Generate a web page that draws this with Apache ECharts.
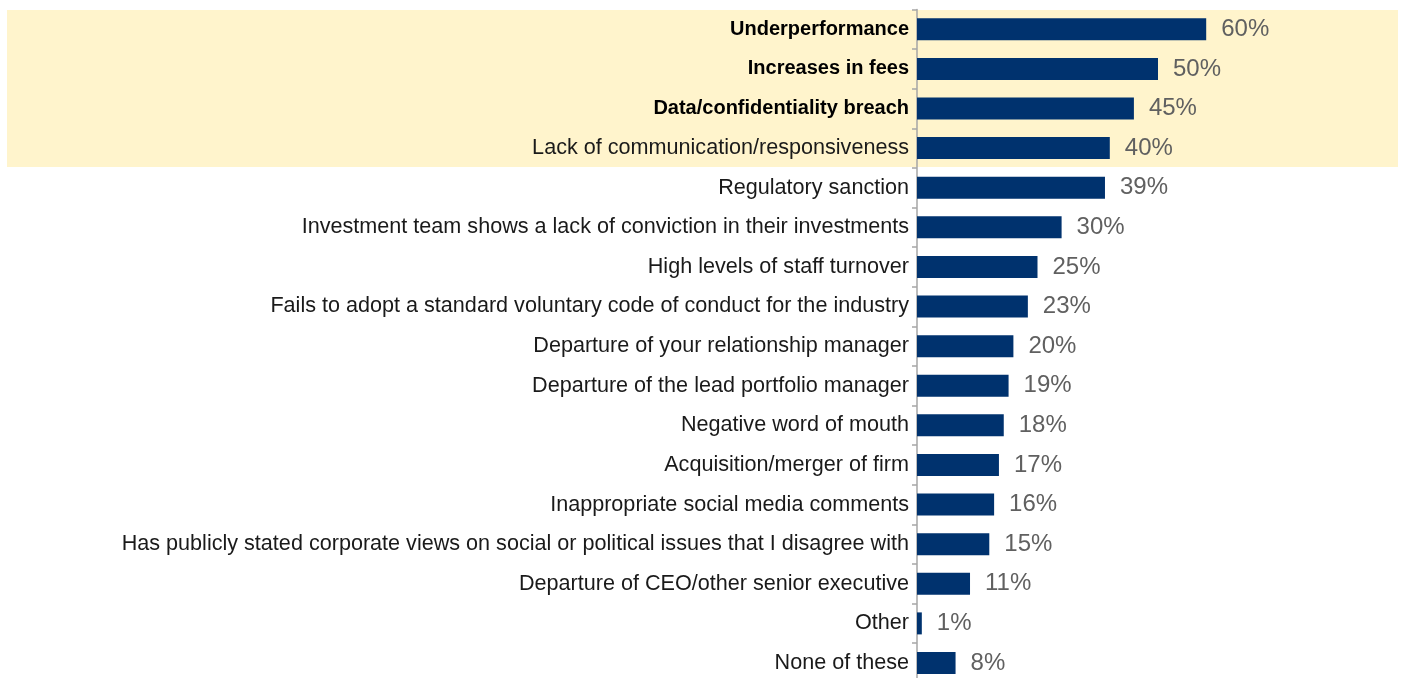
<!DOCTYPE html>
<html>
<head>
<meta charset="utf-8">
<script src="https://cdn.jsdelivr.net/npm/echarts@6/dist/echarts.min.js"></script>
<style>
html,body{margin:0;padding:0;background:#fff;overflow:hidden;width:1404px;height:678px;}
#chart{width:1404px;height:684px;}
</style>
</head>
<body>
<div id="chart"></div>
<script>
const categories = [
  "Underperformance",
  "Increases in fees",
  "Data/confidentiality breach",
  "Lack of communication/responsiveness",
  "Regulatory sanction",
  "Investment team shows a lack of conviction in their investments",
  "High levels of staff turnover",
  "Fails to adopt a standard voluntary code of conduct for the industry",
  "Departure of your relationship manager",
  "Departure of the lead portfolio manager",
  "Negative word of mouth",
  "Acquisition/merger of firm",
  "Inappropriate social media comments",
  "Has publicly stated corporate views on social or political issues that I disagree with",
  "Departure of CEO/other senior executive",
  "Other",
  "None of these"
];
const values = [60, 50, 45, 40, 39, 30, 25, 23, 20, 19, 18, 17, 16, 15, 11, 1, 8];
const boldCount = 3;      // first labels shown in bold
const highlightCount = 4; // first rows in the highlighted band

const FONT = 'Liberation Sans, Arial, sans-serif';
const chart = echarts.init(document.getElementById('chart'), null, {renderer: 'canvas'});
const option = {
  animation: false,
  grid: {left: 917, top: 9.5, right: 5, bottom: 1.2, containLabel: false},
  xAxis: {type: 'value', min: 0, max: 100, show: false},
  yAxis: {
    type: 'category',
    inverse: true,
    data: categories,
    axisLine: {show: true, lineStyle: {color: '#A6A6A6', width: 1.5}},
    axisTick: {show: true, length: 5, lineStyle: {color: '#A6A6A6', width: 1.5}},
    splitLine: {show: false},
    axisLabel: {
      margin: 8,
      fontFamily: FONT,
      fontSize: 21.6,
      color: '#1a1a1a',
      formatter: function (v, i) {
        return i < boldCount ? '{b|' + v + '}' : '{n|' + v + '}';
      },
      rich: {
        b: {fontWeight: 'bold', fontSize: 20, color: '#000', fontFamily: FONT},
        n: {fontWeight: 'normal', fontSize: 21.6, color: '#1a1a1a', fontFamily: FONT}
      }
    }
  },
  series: [{
    type: 'bar',
    data: values,
    barWidth: 22,
    itemStyle: {color: '#00326E'},
    label: {
      show: true,
      position: 'right',
      distance: 15,
      formatter: '{c}%',
      color: '#606060',
      fontSize: 24,
      fontFamily: FONT
    }
  }]
};
chart.setOption(option);

// highlight band behind the first rows, derived from the axis scale
const yTop = chart.convertToPixel({yAxisIndex: 0}, categories[0]);
const yNext = chart.convertToPixel({yAxisIndex: 0}, categories[1]);
const band = yNext - yTop;
const yEnd = chart.convertToPixel({yAxisIndex: 0}, categories[highlightCount - 1]);
const bandTop = yTop - band / 2 + 0.5;
const bandBottom = yEnd + band / 2 - 1;
chart.setOption({
  graphic: [{
    type: 'rect',
    z: -10,
    silent: true,
    shape: {x: 7, y: bandTop, width: 1391, height: bandBottom - bandTop},
    style: {fill: '#FFF4CC'}
  }]
});
</script>
</body>
</html>
